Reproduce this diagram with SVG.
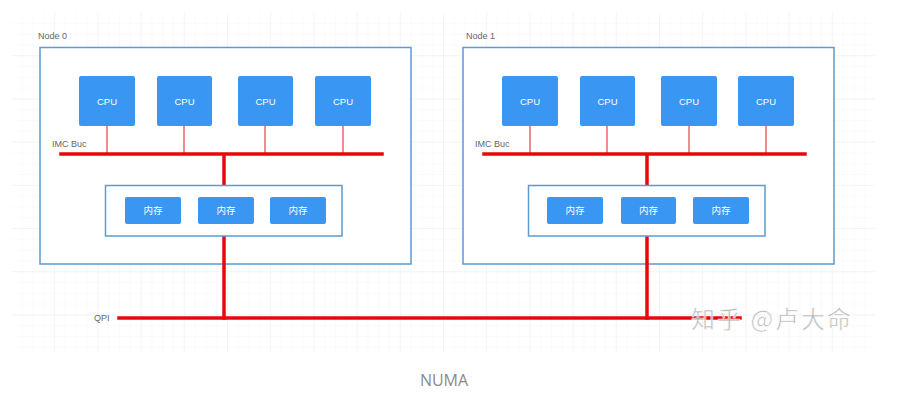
<svg xmlns="http://www.w3.org/2000/svg" width="907" height="410" viewBox="0 0 907 410">
<style>
.lbl{font-family:"Liberation Sans","Noto Sans CJK SC",sans-serif;font-size:9px;fill:#666}
.box{fill:#fff;stroke:#5b9bd0;stroke-width:1.5}
.cpu{fill:#3a96f3}
.ct{font-family:"Liberation Sans","Noto Sans CJK SC",sans-serif;font-size:9.5px;fill:#fff;text-anchor:middle;dominant-baseline:central}
.bus{stroke:#e8080c;stroke-width:3.5;fill:none;stroke-linecap:square}
.thin{stroke:#e34040;stroke-width:1.2;fill:none}
</style>
<defs>
<pattern id="minor" width="10.8" height="10.8" patternUnits="userSpaceOnUse" x="12" y="13">
<path d="M10.8 0V10.8H0" fill="none" stroke="#f5f5f5" stroke-width="0.8"/>
</pattern>
<pattern id="major" width="43.2" height="43.2" patternUnits="userSpaceOnUse" x="12" y="13">
<path d="M43.2 0V43.2H0" fill="none" stroke="#eeeeee" stroke-width="1"/>
</pattern>
</defs>
<rect width="907" height="410" fill="#fff"/>
<rect x="12" y="13" width="863" height="340" fill="url(#minor)"/>
<rect x="12" y="13" width="863" height="340" fill="url(#major)"/>

<g id="node0">
<text class="lbl" x="38" y="39">Node 0</text>
<rect class="box" x="40" y="47.5" width="371" height="216.5"/>
<text class="lbl" x="52" y="147">IMC Buc</text>
</g>
<g id="node1">
<text class="lbl" x="466" y="39">Node 1</text>
<rect class="box" x="463" y="47.5" width="371" height="216.5"/>
<text class="lbl" x="475" y="147">IMC Buc</text>
</g>

<g id="connectors">
<path class="thin" d="M107 126V154M184 126V154M265 126V154M343 126V154"/>
<path class="thin" d="M530 126V154M607 126V154M689 126V154M766 126V154"/>
<path class="bus" d="M61 154H382M224 154V185M224 236V318"/>
<path class="bus" d="M484 154H805M647 154V185M647 236V318"/>
<path class="bus" d="M119 318H740"/>
</g>

<g id="mem0">
<rect class="box" x="105.5" y="185.5" width="236.5" height="50.5"/>
</g>
<g id="mem1">
<rect class="box" x="528.5" y="185.5" width="236.5" height="50.5"/>
</g>

<g id="cpu0a"><rect class="cpu" x="79" y="76" width="56" height="50" rx="2"/><text class="ct" x="107" y="101">CPU</text></g>
<g id="cpu0b"><rect class="cpu" x="157" y="76" width="55" height="50" rx="2"/><text class="ct" x="184.5" y="101">CPU</text></g>
<g id="cpu0c"><rect class="cpu" x="238" y="76" width="55" height="50" rx="2"/><text class="ct" x="265.5" y="101">CPU</text></g>
<g id="cpu0d"><rect class="cpu" x="315" y="76" width="56" height="50" rx="2"/><text class="ct" x="343" y="101">CPU</text></g>
<g id="cpu1a"><rect class="cpu" x="502" y="76" width="56" height="50" rx="2"/><text class="ct" x="530" y="101">CPU</text></g>
<g id="cpu1b"><rect class="cpu" x="580" y="76" width="55" height="50" rx="2"/><text class="ct" x="607.5" y="101">CPU</text></g>
<g id="cpu1c"><rect class="cpu" x="661" y="76" width="56" height="50" rx="2"/><text class="ct" x="689" y="101">CPU</text></g>
<g id="cpu1d"><rect class="cpu" x="738" y="76" width="56" height="50" rx="2"/><text class="ct" x="766" y="101">CPU</text></g>

<g id="ram0a"><rect class="cpu" x="125" y="197" width="56" height="27" rx="2"/><text class="ct" x="153" y="210.5">内存</text></g>
<g id="ram0b"><rect class="cpu" x="198" y="197" width="56" height="27" rx="2"/><text class="ct" x="226" y="210.5">内存</text></g>
<g id="ram0c"><rect class="cpu" x="270" y="197" width="56" height="27" rx="2"/><text class="ct" x="298" y="210.5">内存</text></g>
<g id="ram1a"><rect class="cpu" x="547" y="197" width="56" height="27" rx="2"/><text class="ct" x="575" y="210.5">内存</text></g>
<g id="ram1b"><rect class="cpu" x="621" y="197" width="55" height="27" rx="2"/><text class="ct" x="648.5" y="210.5">内存</text></g>
<g id="ram1c"><rect class="cpu" x="693" y="197" width="56" height="27" rx="2"/><text class="ct" x="721" y="210.5">内存</text></g>

<text class="lbl" x="94" y="321">QPI</text>
<text x="691" y="328" font-family="'Noto Sans CJK SC',sans-serif" font-size="24" letter-spacing="2" fill="#b0b0b0" stroke="#fff" stroke-width="0.6" opacity="0.9">知乎 @卢大命</text>
<text x="444" y="386" font-family="'Open Sans','Liberation Sans',sans-serif" font-size="16" fill="#8a8a8a" text-anchor="middle">NUMA</text>
</svg>
